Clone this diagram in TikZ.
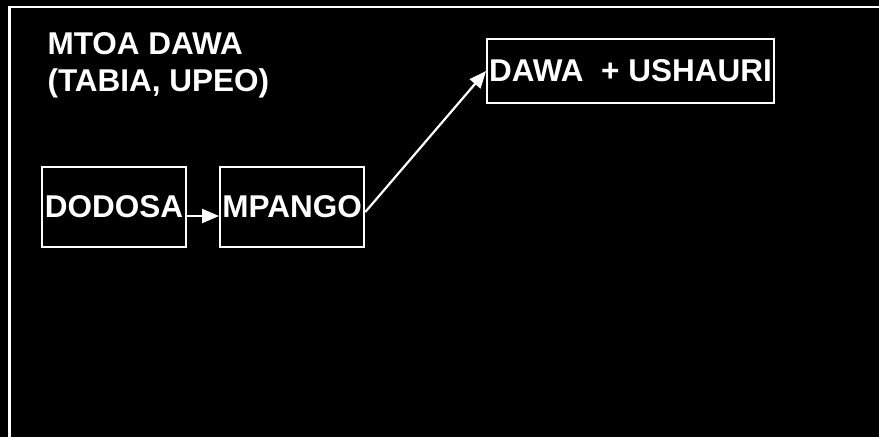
\documentclass[tikz,border=0pt]{standalone}
\usepackage{fontspec}
\setmainfont{Liberation Sans}
\usepackage{tikz}
\usetikzlibrary{positioning,arrows.meta}

\begin{document}
\begin{tikzpicture}[x=1pt, y=-1pt,
    every node/.style={text=white, font=\fontsize{31.5}{37}\selectfont\bfseries},
    box/.style={draw=white, line width=2.2pt, inner sep=2pt},
    arr/.style={draw=white, line width=2.2pt, -{Triangle[length=17pt,width=14pt]}}]
    \fill[black] (0,0) rectangle (879,437);
    \useasboundingbox (0,0) rectangle (879,437);
    \draw[white, line width=2.5pt] (879,7) -| (9.5,437);

    \node [anchor=base west, align=left] (title) at (44,91) {MTOA DAWA\\(TABIA, UPEO)};

    \node [box, minimum width=144pt, minimum height=80pt] (dodosa) at (114,207) {DODOSA};
    \node [box, minimum width=144pt, minimum height=80pt, right=32pt of dodosa] (mpango) {MPANGO};
    \node [box, minimum width=285pt, minimum height=64pt] (dawa) at (630.5,71) {DAWA~ + USHAURI};

    \draw [arr] ([yshift=-9pt]dodosa.east) -- ([yshift=-9pt]mpango.west);
    \draw [arr] ([yshift=-5pt]mpango.east) -- (dawa.west);

\end{tikzpicture}
\end{document}
